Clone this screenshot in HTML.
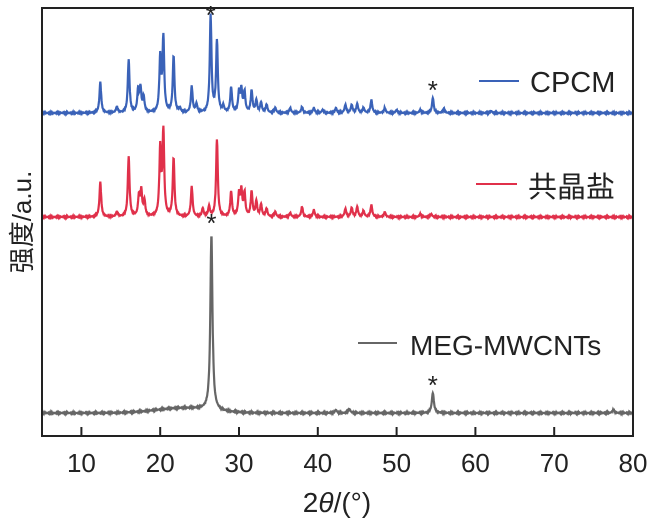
<!DOCTYPE html>
<html><head><meta charset="utf-8"><style>
body{margin:0;background:#fff}
svg{display:block;font-family:"Liberation Sans","Noto Sans CJK SC",sans-serif}
</style></head><body>
<svg id="chart" width="653" height="524" viewBox="0 0 653 524">
<g id="plot"></g>
<rect x="42" y="8" width="591" height="428" fill="none" stroke="#222" stroke-width="2"/>
<g id="ticks"></g>
<text x="337" y="512" font-size="28" text-anchor="middle" fill="#222">2<tspan font-style="italic">θ</tspan>/(°)</text>
<text transform="translate(31,222) rotate(-90)" font-size="26" text-anchor="middle" fill="#222">强度/a.u.</text>
<g><line x1="479" y1="81" x2="519" y2="81" stroke="#3a62b8" stroke-width="2"/><text x="530" y="92" font-size="29" fill="#222">CPCM</text></g>
<g><line x1="476" y1="184" x2="517" y2="184" stroke="#e0304a" stroke-width="2"/><text x="528" y="197" font-size="29" fill="#222">共晶盐</text></g>
<g><line x1="358" y1="343" x2="397" y2="343" stroke="#666" stroke-width="2"/><text x="410" y="355" font-size="28" fill="#222">MEG-MWCNTs</text></g>
<g id="stars"></g>
</svg>
<script>
const xTicks=[10,20,30,40,50,60,70,80];
const bluePos=[12.4,14.5,16.0,17.2,17.5,17.9,20.0,20.4,21.7,22.5,24.0,24.6,26.4,27.2,28.0,29.0,30.0,30.3,30.7,31.6,32.2,32.8,33.5,34.6,36.5,38.0,39.5,40.6,42.3,43.5,44.3,45.0,45.8,46.8,48.5,50.0,53.0,54.6,56.0,62.0];
const blueH=[31,6,53,22,23,15,54,74,56,4,26,8,97,71,6,25,20,22,20,22,12,10,8,5,5,6,5,3,5,8,8,9,5,13,5,3,3,15,4,2];
const redPos=[12.4,14.5,16.0,17.3,17.6,18.0,20.0,20.4,21.7,24.0,25.4,26.2,27.2,29.0,30.0,30.3,30.7,31.6,32.2,32.8,33.5,34.6,36.5,38.0,39.5,43.5,44.3,45.0,45.8,46.8,48.5,53.0,54.4];
const redH=[35,5,60,20,25,15,67,84,58,30,8,10,77,25,22,25,23,25,15,12,8,5,4,10,7,8,9,10,6,12,5,3,3];
const grayPos=[26.5,42.3,44.0,54.6,77.5];
const grayH=[175,3,4,20,3];
const starX=[26.4,54.6,26.5,54.6];
const starY=[10,85,218,380];
const X=v=>42+(v-5)*(591/75);
const NS="http://www.w3.org/2000/svg";
const plot=document.getElementById('plot');
function path(pos,h,base,w,color,name,hump){
  let d="";
  for(let v=5;v<=80;v+=0.04){
    let s=0;
    for(let i=0;i<pos.length;i++){const t=(v-pos[i])/w;s+=h[i]/(1+t*t);}
    if(hump){s+=5*Math.exp(-Math.pow((v-23)/5,2));}
    const noise=Math.sin(v*97.3)*0.3+Math.sin(v*53.1)*0.25;
    d+=(d?"L":"M")+X(v).toFixed(1)+","+(base-s+noise).toFixed(1);
  }
  const p=document.createElementNS(NS,'path');
  p.setAttribute('d',d);p.setAttribute('fill','none');p.setAttribute('stroke',color);p.setAttribute('stroke-width','2.2');
  
  
  plot.appendChild(p);
}
path(bluePos,blueH,113,0.13,'#3a62b8','series-cpcm',false);
path(redPos,redH,217,0.13,'#e0304a','series-eutectic-salt',false);
path(grayPos,grayH,413,0.16,'#666','series-meg-mwcnts',true);
const tg=document.getElementById('ticks');
xTicks.forEach(v=>{
  const l=document.createElementNS(NS,'line');
  l.setAttribute('x1',X(v));l.setAttribute('x2',X(v));l.setAttribute('y1',436);l.setAttribute('y2',427);
  l.setAttribute('stroke','#222');l.setAttribute('stroke-width','2');
  
  
  tg.appendChild(l);
  const t=document.createElementNS(NS,'text');
  t.setAttribute('x',X(v));t.setAttribute('y',472);t.setAttribute('font-size','26');t.setAttribute('text-anchor','middle');t.setAttribute('fill','#222');
  t.textContent=v;
  
  
  tg.appendChild(t);
});
const sg=document.getElementById('stars');
starX.forEach((v,i)=>{
  const t=document.createElementNS(NS,'text');
  t.setAttribute('x',X(v));t.setAttribute('y',starY[i]+14);t.setAttribute('font-size','26');t.setAttribute('text-anchor','middle');t.setAttribute('fill','#222');
  t.textContent='*';
  
  
  sg.appendChild(t);
});
</script>
</body></html>
